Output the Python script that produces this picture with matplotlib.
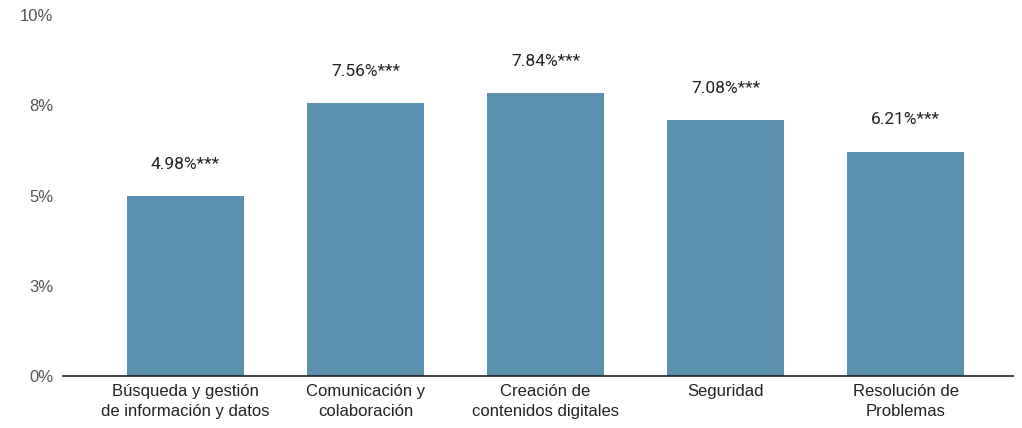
import matplotlib
matplotlib.use('Agg')
import matplotlib.pyplot as plt

categories = ['Búsqueda y gestión\nde información y datos', 'Comunicación y\ncolaboración',
              'Creación de\ncontenidos digitales', 'Seguridad', 'Resolución de\nProblemas']
values = [4.98, 7.56, 7.84, 7.08, 6.21]
value_labels = ['4.98%***', '7.56%***', '7.84%***', '7.08%***', '6.21%***']
yticks = [0, 2.5, 5, 7.5, 10]
ytick_labels = ['0%', '3%', '5%', '8%', '10%']

fig = plt.figure(figsize=(10.22, 4.28), dpi=100)
ax = fig.add_axes([63 / 1022, 52 / 428, 950 / 1022, 361 / 428])

x = range(len(categories))
ax.bar(x, values, width=0.65, color='#5a91ae', zorder=2)

for xi, v, lab in zip(x, values, value_labels):
    ax.annotate(lab, xy=(xi, v), xytext=(0, 23), textcoords='offset points',
                ha='center', va='center', fontsize=12.5, family='Roboto', color='#222222')

ax.set_xlim(-0.68, 4.597)
ax.set_ylim(0, 10)
ax.set_yticks(yticks)
ax.set_yticklabels(ytick_labels, family='Liberation Sans', fontsize=12, color='#555555')
ax.set_xticks(list(x))
ax.set_xticklabels(categories, family='Liberation Sans', fontsize=12, color='#222222',
                   linespacing=1.4)
ax.tick_params(axis='both', length=0)
ax.tick_params(axis='y', pad=7)
ax.tick_params(axis='x', pad=6)

for s in ['top', 'right', 'left']:
    ax.spines[s].set_visible(False)
ax.spines['bottom'].set_color('#222222')
ax.spines['bottom'].set_linewidth(1.2)
ax.spines['bottom'].set_zorder(3)

fig.savefig('out.png', dpi=100)
